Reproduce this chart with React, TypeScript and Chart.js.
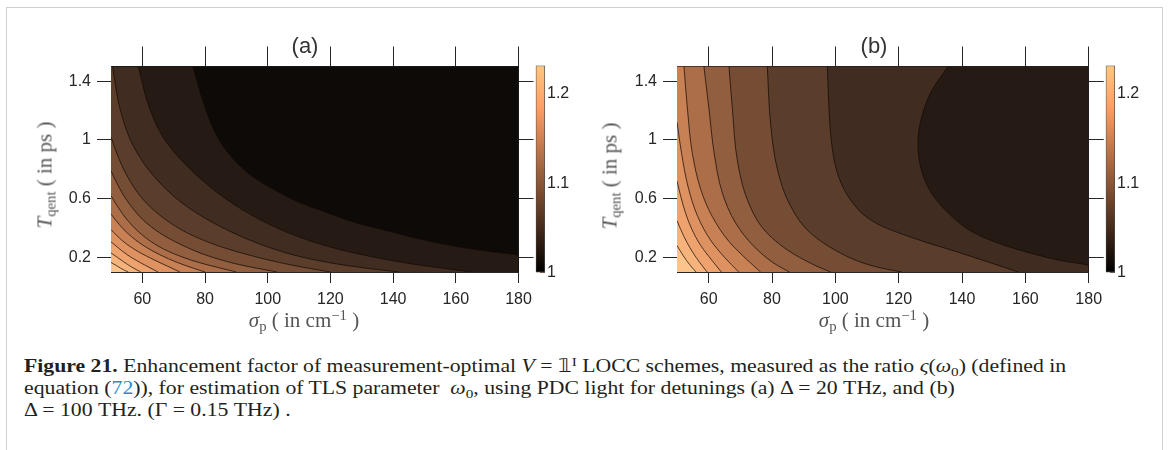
import React, { useEffect, useRef } from 'react';
import { Chart, registerables } from 'chart.js';
Chart.register(...registerables);

// ---------- axes ----------
const xRange = [50, 180];
const yRange = [0.1, 1.5];
const xTicks = [60, 80, 100, 120, 140, 160, 180];
const yTicks = [0.2, 0.6, 1, 1.4];
const colorbarRange = [1, 1.232];
const colorbarTicks = [1, 1.1, 1.2];

// ---------- contour levels and their fill colours ----------
const levels = [1.0, 1.02, 1.04, 1.06, 1.08, 1.1, 1.12, 1.14, 1.16, 1.18, 1.2, 1.22];
const levelColors = ['#0d0a08', '#261b14', '#402c20', '#5a3d2b', '#754d35', '#915e3f', '#ac6e49', '#c88055', '#de9161', '#eea36e', '#f6b47c', '#f9c58c'];

// ---------- panel (a): contour lines [sigma_p, T_qent], top to bottom ----------
const a102 = [[76.1, 1.5], [79.4, 1.26], [83.7, 1.03], [89, 0.87], [96.5, 0.73], [103.9, 0.64], [110.3, 0.571], [117.7, 0.514], [128.4, 0.434], [139, 0.376], [149.6, 0.319], [160.3, 0.273], [170.9, 0.239], [180, 0.212], [180, 0.1]];
const a104 = [[58.7, 1.5], [62.4, 1.21], [67.8, 0.98], [76.3, 0.78], [86.9, 0.594], [97.5, 0.457], [108, 0.355], [120, 0.27], [133, 0.205], [146, 0.155], [158, 0.12], [165, 0.1]];
const a106 = [[50.5, 1.5], [52.9, 1.21], [57.1, 0.96], [64.6, 0.73], [74.1, 0.548], [86.9, 0.388], [99.7, 0.273], [110.3, 0.205], [122, 0.155], [133, 0.122], [142, 0.1]];
const a108 = [[50, 1.02], [52, 0.9], [55, 0.76], [60, 0.6], [66, 0.48], [74, 0.37], [84, 0.28], [95, 0.21], [107, 0.15], [120, 0.1]];
const a110 = [[50, 0.79], [52, 0.7], [55, 0.59], [60, 0.46], [66, 0.36], [73, 0.28], [81, 0.21], [91, 0.15], [103, 0.1]];
const a112 = [[50, 0.62], [52, 0.55], [55, 0.46], [59, 0.37], [64, 0.29], [70, 0.225], [78, 0.165], [90, 0.1]];
const a114 = [[50, 0.495], [52, 0.44], [55, 0.37], [59, 0.3], [64, 0.235], [70, 0.175], [75, 0.135], [80, 0.1]];
const a116 = [[50, 0.39], [52, 0.345], [55, 0.29], [59, 0.235], [64, 0.18], [68, 0.14], [72, 0.1]];
const a118 = [[50, 0.305], [52, 0.27], [55, 0.22], [58, 0.18], [61, 0.145], [65, 0.1]];
const a120 = [[50, 0.23], [52, 0.2], [54, 0.17], [56.5, 0.135], [59.5, 0.1]];
const a122 = [[50, 0.165], [52, 0.14], [54, 0.115], [55.5, 0.1]];

// ---------- panel (b): contour lines [sigma_p, T_qent], top to bottom ----------
const b104 = [[135.6, 1.5], [130.3, 1.33], [127.1, 1.14], [126.1, 0.98], [127.1, 0.8], [130.3, 0.64], [135.6, 0.503], [144, 0.365], [154.5, 0.274], [170.3, 0.182], [180, 0.14], [180, 0.1]];
const b106 = [[97.5, 1.5], [97.9, 1.25], [98.7, 1.0], [100.3, 0.8], [102.6, 0.67], [105.5, 0.57], [109.5, 0.48], [115, 0.41], [121.5, 0.355], [129, 0.3], [138, 0.24], [148, 0.17], [157.7, 0.1]];
const b108 = [[78.5, 1.5], [79.6, 1.1], [81.7, 0.8], [85.9, 0.548], [92.2, 0.365], [101.7, 0.228], [109, 0.16], [115, 0.125], [121, 0.1]];
const b110 = [[66.4, 1.5], [67.5, 1.21], [69, 0.868], [72.2, 0.594], [77.5, 0.388], [84.8, 0.251], [93.3, 0.148], [98.5, 0.1]];
const b112 = [[58.5, 1.5], [60.1, 1.21], [61.7, 0.914], [64.3, 0.64], [68.5, 0.434], [74.3, 0.274], [80.6, 0.16], [85.5, 0.1]];
const b114 = [[52.2, 1.5], [53.3, 1.21], [54.8, 0.914], [57.5, 0.662], [61.1, 0.479], [66.4, 0.308], [72.2, 0.182], [76.4, 0.1]];
const b116 = [[50, 1.12], [51.5, 0.9], [53.5, 0.68], [56.5, 0.48], [60.5, 0.32], [65, 0.2], [69.5, 0.1]];
const b118 = [[50, 0.72], [52, 0.55], [54.5, 0.4], [57.5, 0.28], [61, 0.18], [64, 0.1]];
const b120 = [[50, 0.45], [52, 0.35], [54.5, 0.25], [57, 0.17], [59.5, 0.1]];
const b122 = [[50, 0.28], [52, 0.21], [54, 0.15], [56, 0.1]];

const contoursA: [number, number[][]][] = [[1.02, a102], [1.04, a104], [1.06, a106], [1.08, a108], [1.1, a110], [1.12, a112], [1.14, a114], [1.16, a116], [1.18, a118], [1.2, a120], [1.22, a122]];
const contoursB: [number, number[][]][] = [[1.04, b104], [1.06, b106], [1.08, b108], [1.1, b110], [1.12, b112], [1.14, b114], [1.16, b116], [1.18, b118], [1.2, b120], [1.22, b122]];

// copper colormap stops for the colour bar
const copperStops: [number, string][] = [[0, '#000000'], [0.8, '#ff9f65'], [1, '#ffc77f']];

const AXIS = '#262626';
const TICK_FONT = { family: '"Liberation Sans", Arial, sans-serif', size: 16 };

const colorOf = (lv: number) => levelColors[levels.findIndex((l) => Math.abs(l - lv) < 1e-6)];

const areaFill = {
  id: 'areaFill',
  beforeDatasetsDraw(chart: any, _a: any, opts: any) {
    const { ctx, chartArea: a } = chart;
    ctx.save();
    ctx.fillStyle = opts.color;
    ctx.fillRect(a.left, a.top, a.right - a.left, a.bottom - a.top);
    ctx.restore();
  },
};

type PanelProps = { left: number; width: number; plotLeft: number; plotRight: number; baseLevel: number; contours: [number, number[][]][] };

const TOP = 66.5;
const BOTTOM = 272;
const H = 345;

function ContourPanel({ left, width, plotLeft, plotRight, baseLevel, contours }: PanelProps) {
  const ref = useRef<HTMLCanvasElement>(null);
  useEffect(() => {
    const datasets = [...contours].reverse().map(([lv, pts]) => ({
      data: pts.map(([x, y]) => ({ x, y })),
      borderColor: 'rgba(18,10,6,0.9)',
      borderWidth: 0.8,
      backgroundColor: colorOf(lv),
      fill: { value: xRange[0] },
      pointRadius: 0,
      cubicInterpolationMode: 'monotone',
    }));
    const tickSet = (arr: number[]) => (s: any) => { s.ticks = arr.map((v) => ({ value: v })); };
    const chart = new Chart(ref.current!, {
      type: 'line',
      data: { datasets },
      plugins: [areaFill],
      options: {
        indexAxis: 'y',
        responsive: false,
        animation: false,
        events: [],
        layout: { padding: 0 },
        plugins: { legend: { display: false }, tooltip: { enabled: false }, areaFill: { color: colorOf(baseLevel) } } as any,
        scales: {
          x: {
            type: 'linear', position: 'bottom', min: xRange[0], max: xRange[1],
            afterBuildTicks: tickSet(xTicks),
            grid: { drawOnChartArea: false, tickLength: 11, color: AXIS },
            border: { color: AXIS },
            ticks: { font: TICK_FONT, color: AXIS, padding: 7, maxRotation: 0, callback: (v: any) => String(v) },
            afterFit: (s: any) => { s.height = H - BOTTOM; },
          },
          x2: {
            type: 'linear', position: 'top', min: xRange[0], max: xRange[1],
            afterBuildTicks: tickSet(xTicks),
            grid: { drawOnChartArea: false, tickLength: 20, color: AXIS },
            border: { color: AXIS },
            ticks: { display: false },
            afterFit: (s: any) => { s.height = TOP; },
          },
          y: {
            type: 'linear', position: 'left', min: yRange[0], max: yRange[1],
            afterBuildTicks: tickSet(yTicks),
            grid: { drawOnChartArea: false, tickLength: 14, color: AXIS },
            border: { color: AXIS },
            ticks: { font: TICK_FONT, color: AXIS, padding: 6, callback: (v: any) => String(v) },
            afterFit: (s: any) => { s.width = plotLeft - left; },
          },
          y2: {
            type: 'linear', position: 'right', min: yRange[0], max: yRange[1],
            afterBuildTicks: tickSet(yTicks),
            grid: { drawOnChartArea: false, tickLength: 15, color: AXIS },
            border: { color: AXIS },
            ticks: { display: false },
            afterFit: (s: any) => { s.width = left + width - plotRight; },
          },
        },
      } as any,
    });
    return () => chart.destroy();
  }, []);
  return <canvas ref={ref} width={width} height={H} style={{ position: 'absolute', left, top: 0 }} />;
}

function ColorBar({ left }: { left: number }) {
  const ref = useRef<HTMLCanvasElement>(null);
  const W = 64;
  useEffect(() => {
    const chart = new Chart(ref.current!, {
      type: 'bar',
      data: {
        labels: [''],
        datasets: [{
          data: [[colorbarRange[0], colorbarRange[1]]] as any,
          backgroundColor: (c: any) => {
            const ch = c.chart;
            if (!ch.chartArea) return '#000';
            const ys = ch.scales.y;
            const g = ch.ctx.createLinearGradient(0, ys.getPixelForValue(colorbarRange[0]), 0, ys.getPixelForValue(colorbarRange[1]));
            copperStops.forEach(([t, col]) => g.addColorStop(t, col));
            return g;
          },
          borderColor: '#4a4a4a',
          borderWidth: 1,
          borderSkipped: false,
          barPercentage: 1,
          categoryPercentage: 1,
        }],
      },
      options: {
        responsive: false,
        animation: false,
        events: [],
        layout: { padding: { left: 11.7, top: 65.5, bottom: H - 272.5, right: 0 } },
        plugins: { legend: { display: false }, tooltip: { enabled: false } },
        scales: {
          x: { display: false },
          y: {
            type: 'linear', position: 'right', min: colorbarRange[0], max: colorbarRange[1],
            afterBuildTicks: (s: any) => { s.ticks = colorbarTicks.map((v) => ({ value: v })); },
            grid: { drawOnChartArea: false, tickLength: -5, color: 'rgba(80,45,20,0.75)' },
            border: { display: false },
            ticks: { font: TICK_FONT, color: AXIS, padding: 7, callback: (v: any) => String(v) },
            afterFit: (s: any) => { s.width = W - 11.7 - 9.3; },
          },
        },
      } as any,
    });
    return () => chart.destroy();
  }, []);
  return <canvas ref={ref} width={W} height={H} style={{ position: 'absolute', left, top: 0 }} />;
}

const serif = '"Liberation Serif", "Times New Roman", serif';
const sans = '"Liberation Sans", Arial, sans-serif';
const sub: React.CSSProperties = { fontSize: '0.7em', verticalAlign: 'baseline', position: 'relative', top: '0.3em', lineHeight: 0 };
const sup: React.CSSProperties = { fontSize: '0.7em', verticalAlign: 'baseline', position: 'relative', top: '-0.45em', lineHeight: 0 };

function centered(x: number, y: number, extra: React.CSSProperties = {}): React.CSSProperties {
  return { position: 'absolute', left: x, top: y, transform: 'translate(-50%,-50%)', whiteSpace: 'nowrap', ...extra };
}

function YTitle({ x, y }: { x: number; y: number }) {
  return (
    <div style={centered(x, y, { transform: 'translate(-50%,-50%) rotate(-90deg)', font: `21px ${serif}`, color: '#555' })}>
      <i>T</i><span style={sub}>qent</span> ( in ps )
    </div>
  );
}
function XTitle({ x, y }: { x: number; y: number }) {
  return (
    <div style={centered(x, y, { font: `21px ${serif}`, color: '#555' })}>
      <i>σ</i><span style={sub}>p</span> ( in cm<span style={sup}>−1</span> )
    </div>
  );
}

export default function App() {
  return (
    <div style={{ position: 'fixed', left: 0, top: 0, width: 1174, height: 450, background: '#fff', overflow: 'hidden' }}>
      <div style={{ position: 'absolute', left: 6, top: 7, width: 1155, height: 470, borderLeft: '1.5px solid #cfcfcf', borderTop: '1.5px solid #cfcfcf', borderRight: '1.5px solid #cfcfcf' }} />
      <ContourPanel left={0} width={560} plotLeft={111} plotRight={518.5} baseLevel={1.0} contours={contoursA} />
      <ColorBar left={524} />
      <ContourPanel left={566} width={560} plotLeft={677} plotRight={1088.7} baseLevel={1.02} contours={contoursB} />
      <ColorBar left={1094} />
      <div style={centered(305, 46, { font: `22px ${sans}`, color: '#333' })}>(a)</div>
      <div style={centered(874, 46, { font: `22px ${sans}`, color: '#333' })}>(b)</div>
      <YTitle x={45} y={175} />
      <YTitle x={610} y={176} />
      <XTitle x={304} y={320} />
      <XTitle x={874} y={320} />
      <div style={{ position: 'absolute', left: 24, top: 355, font: `19px ${serif}`, lineHeight: '22px', color: '#231f20', whiteSpace: 'nowrap', transform: 'scaleX(1.144)', transformOrigin: '0 0' }}>
        <b>Figure 21.</b> Enhancement factor of measurement-optimal <i>V</i> = 𝟙<span style={sup}>I</span> LOCC schemes, measured as the ratio <i>ς</i>(<i>ω</i><span style={sub}>0</span>) (defined in<br />
        equation (<span style={{ color: '#1f8dd6' }}>72</span>)), for estimation of TLS parameter &nbsp;<i>ω</i><span style={sub}>0</span>, using PDC light for detunings (a) Δ = 20 THz, and (b)<br />
        Δ = 100 THz. (Γ = 0.15 THz) .
      </div>
    </div>
  );
}
